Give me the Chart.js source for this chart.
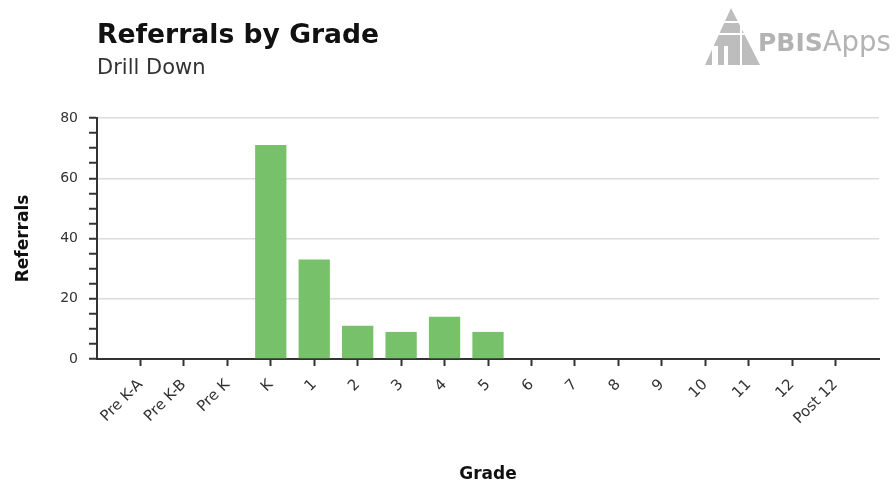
<!DOCTYPE html>
<html>
<head>
<meta charset="utf-8">
<script src="https://cdn.jsdelivr.net/npm/chart.js@4.4.1/dist/chart.umd.min.js"></script>
<style>
    html, body { margin: 0; padding: 0; background: #fff; }
    #wrap { position: relative; width: 896px; height: 487px; overflow: hidden; font-family: "DejaVu Sans", sans-serif; }
    #chart { position: absolute; left: 0; top: 0; }
    .title { position: absolute; left: 97px; top: 21px; font-size: 26.6px; font-weight: bold; line-height: 26px; color: #111; white-space: nowrap; }
    .subtitle { position: absolute; left: 97px; top: 57px; font-size: 21px; line-height: 21px; color: #333; white-space: nowrap; }
    .logo { position: absolute; left: 700px; top: 0; }
</style>
</head>
<body>
<div id="wrap">
    <canvas id="chart" width="896" height="487"></canvas>
    <div class="title">Referrals by Grade</div>
    <div class="subtitle">Drill Down</div>
    <svg class="logo" width="196" height="70">
        <polygon points="31,8 5,65 60,65" fill="#bdbdbd" />
        <line x1="18" y1="22" x2="44" y2="22" stroke="#fff" stroke-width="2" />
        <line x1="12" y1="34" x2="50" y2="34" stroke="#fff" stroke-width="2" />
        <line x1="41" y1="20" x2="41" y2="65" stroke="#fff" stroke-width="2" />
        <rect x="12" y="46" width="6" height="19" fill="#fff" />
        <rect x="24" y="46" width="4" height="19" fill="#fff" />
        <text x="58" y="51" font-family="DejaVu Sans" font-weight="bold" font-size="25" fill="#b3b3b3">PBIS<tspan font-weight="normal" font-size="27.5">Apps</tspan></text>
    </svg>
</div>
<script>
const grades = ["Pre K-A", "Pre K-B", "Pre K", "K", "1", "2", "3", "4", "5",
    "6", "7", "8", "9", "10", "11", "12", "Post 12"];
const referrals = [0, 0, 0, 71, 33, 11, 9, 14, 9, 0, 0, 0, 0, 0, 0, 0, 0];
const yMax = 80;
const yLabelStep = 20;
const yMinorStep = 5;

const axisColor = "#333";
const tickFont = { family: "DejaVu Sans", size: 14 };
const xTickFont = { family: "DejaVu Sans", size: 15 };
const titleFont = { family: "DejaVu Sans", size: 17, weight: "bold" };

const ctx = document.getElementById("chart").getContext("2d");
new Chart(ctx, {
    type: "bar",
    data: {
        datasets: [
            {
                label: "Referrals",
                data: referrals.map((v, i) => ({ x: i, y: v })),
                backgroundColor: "#77c16a",
                borderWidth: 0,
            },
        ],
    },
    options: {
        responsive: false,
        animation: false,
        layout: { padding: { top: 118, right: 17, bottom: 0, left: 0 } },
        plugins: {
            legend: { display: false },
            tooltip: { enabled: false },
        },
        scales: {
            x: {
                type: "linear",
                offset: false,
                min: -1,
                max: grades.length,
                afterBuildTicks: (scale) => {
                    scale.ticks = scale.ticks.filter(
                        (t) => t.value >= 0 && t.value < grades.length
                    );
                },
                afterFit: (scale) => {
                    scale.height = 128;
                },
                ticks: {
                    stepSize: 1,
                    autoSkip: false,
                    minRotation: 45,
                    maxRotation: 45,
                    padding: 10,
                    color: axisColor,
                    font: xTickFont,
                    callback: (v) => grades[v],
                },
                grid: {
                    offset: false,
                    drawOnChartArea: false,
                    drawTicks: true,
                    tickLength: 7,
                    tickColor: axisColor,
                    tickWidth: 2,
                },
                border: { display: true, color: axisColor, width: 2 },
                title: {
                    display: true,
                    text: "Grade",
                    color: "#111",
                    font: titleFont,
                    padding: { top: 0, bottom: 2 },
                },
            },
            y: {
                min: 0,
                max: yMax,
                afterFit: (scale) => {
                    scale.width = 97;
                },
                ticks: {
                    stepSize: yMinorStep,
                    autoSkip: false,
                    padding: 11,
                    color: axisColor,
                    font: tickFont,
                    callback: (v) => (v % yLabelStep === 0 ? v : ""),
                },
                grid: {
                    color: (c) =>
                        c.tick && c.tick.value % yLabelStep === 0 ? "#dcdcdc" : "rgba(0,0,0,0)",
                    lineWidth: 1.5,
                    tickLength: 8,
                    tickColor: axisColor,
                    tickWidth: 2,
                },
                border: { display: true, color: axisColor, width: 2 },
                title: {
                    display: true,
                    text: "Referrals",
                    color: "#111",
                    font: titleFont,
                    padding: { top: 13, bottom: 0 },
                },
            },
        },
    },
});
</script>
</body>
</html>
